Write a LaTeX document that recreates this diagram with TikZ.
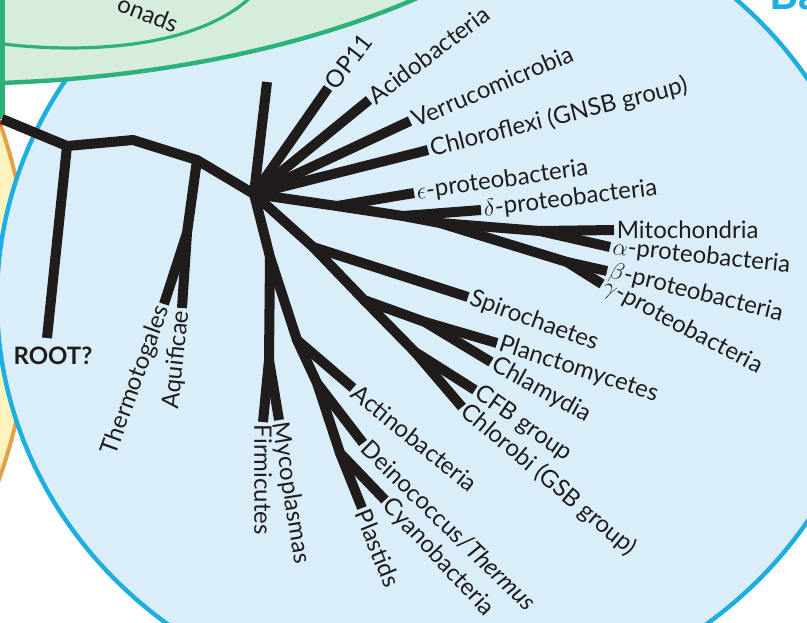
\documentclass[tikz,border=0pt]{standalone}
\usepackage{fontspec}
\setmainfont{Lato}
\usetikzlibrary{positioning}

\definecolor{bfill}{RGB}{218,238,250}
\definecolor{bline}{RGB}{30,174,224}
\definecolor{gfill}{RGB}{214,236,221}
\definecolor{gline}{RGB}{44,178,120}
\definecolor{yfill}{RGB}{255,244,190}
\definecolor{oline}{RGB}{226,162,72}
\definecolor{rdot}{RGB}{236,84,60}
\definecolor{ink}{RGB}{33,28,28}

\begin{document}
\begin{tikzpicture}[x=0.5pt,y=-0.5pt,
    br/.style={draw=ink,line width=5pt,line join=round},
    lab/.style={inner sep=1.2pt,text=ink,font=\fontsize{12}{14}\selectfont}]
    \useasboundingbox (0,0) rectangle (807,622);
    \fill[white] (0,0) rectangle (807,622);

    \draw[oline,line width=2pt,fill=yfill] (-502,300) circle [radius=532];
    \draw[bline,line width=2.2pt,fill=bfill] (437,300) ellipse [x radius=440,y radius=410];
    \fill[gfill] (-4,-4) -- (-4,83) -- (0,83) .. controls (150,78) and (300,50) .. (422,-4) -- cycle;
    \draw[gline,line width=2.2pt] (-4,83) -- (0,83) .. controls (150,78) and (300,50) .. (422,-4);
    \draw[gline,line width=1.6pt] (-4,43) .. controls (60,52) and (190,55) .. (252,-4);
    \draw[gline,line width=2.6pt] (2,-4) -- (2,119);
    \fill[rdot] (0,123) circle [radius=3.5];

    \node[lab,rotate=-21] (on) at (148,14) {onads};
    \node[anchor=base west,inner sep=0pt,text=bline,font=\fontsize{22}{24}\selectfont\bfseries] (ba) at (769,9) {Ba};

    \coordinate (t0) at (2,119);
    \coordinate (r1) at (67,146);
    \coordinate (rt) at (47,338);
    \coordinate (r2) at (133,140);
    \coordinate (r3) at (197,160);
    \coordinate (r4) at (187,233);
    \coordinate (hb) at (254,194);
    \coordinate (vv) at (267,82);
    \coordinate (p1) at (337,206);
    \coordinate (p2) at (403,216);
    \coordinate (p3) at (440,223);
    \coordinate (p4) at (540,231);
    \coordinate (p5) at (567,262);
    \coordinate (s1) at (313,247);
    \coordinate (s2) at (364,300);
    \coordinate (s3) at (425,322);
    \coordinate (s4) at (415,352);
    \coordinate (n1) at (270,257);
    \coordinate (n2) at (269,360);
    \coordinate (n3) at (297,340);
    \coordinate (n4) at (317,383);
    \coordinate (n5) at (340,453);

    \node[lab,rotate=52,anchor=west] (op) at (328,88) {OP11};
    \node[lab,rotate=37,anchor=west] (ac) at (369,100) {Acidobacteria};
    \node[lab,rotate=23,anchor=west] (ve) at (410,121) {Verrucomicrobia};
    \node[lab,rotate=14,anchor=west] (cx) at (428,150) {Chloroflexi (GNSB group)};
    \node[lab,rotate=8,anchor=west] (ep) at (414,193) {$\epsilon$-proteobacteria};
    \node[lab,rotate=7,anchor=west] (dl) at (481,210) {$\delta$-proteobacteria};
    \node[lab,anchor=west] (mi) at (614,230) {Mitochondria};
    \node[lab,rotate=-6,anchor=west] (al) at (610,247) {$\alpha$-proteobacteria};
    \node[lab,rotate=-14,anchor=west] (be) at (607,271) {$\beta$-proteobacteria};
    \node[lab,rotate=-28,anchor=west] (ga) at (602,284) {$\gamma$-proteobacteria};
    \node[lab,rotate=-20,anchor=west] (sp) at (468,297) {Spirochaetes};
    \node[lab,rotate=-18,anchor=west] (pl) at (497,343) {Planctomycetes};
    \node[lab,rotate=-29,anchor=west] (cl) at (491,362) {Chlamydia};
    \node[lab,rotate=-35,anchor=west] (cb) at (475,390) {CFB group};
    \node[lab,rotate=-40,anchor=west] (gs) at (462,407) {Chlorobi (GSB group)};
    \node[lab,rotate=-39,anchor=west] (ab) at (353,388) {Actinobacteria};
    \node[lab,rotate=-44,anchor=west] (dt) at (363,443) {Deinococcus/\textit{Thermus}};
    \node[lab,rotate=-47,anchor=west] (cy) at (385,500) {Cyanobacteria};
    \node[lab,rotate=-68,anchor=west] (ps) at (362,508) {Plastids};
    \node[lab,rotate=-90,anchor=west] (fi) at (263,422) {Firmicutes};
    \node[lab,rotate=-81,anchor=west] (my) at (279,420) {Mycoplasmas};
    \node[lab,rotate=70,anchor=east] (tm) at (164,304) {Thermotogales};
    \node[lab,rotate=84,anchor=east] (aq) at (182,308) {Aquificae};
    \node[lab,font=\fontsize{12}{14}\selectfont\bfseries] (ro) at (53,356) {ROOT?};

    \draw[br] (t0) -- (r1) -- (r2) -- (r3) -- (hb);
    \draw[br] (r1) -- (rt);
    \draw[br] (r3) -- (r4) -- (tm.east);
    \draw[br] (r4) -- (aq.east);

    \draw[br] (hb) -- (vv);
    \draw[br] (hb) -- (op.west);
    \draw[br] (hb) -- (ac.west);
    \draw[br] (hb) -- (ve.west);
    \draw[br] (hb) -- (cx.west);

    \draw[br] (hb) -- (p1) -- (p2) -- (p3) -- (p5) -- (ga.west);
    \draw[br] (p1) -- (ep.west);
    \draw[br] (p2) -- (dl.west);
    \draw[br] (p3) -- (p4) -- (mi.west);
    \draw[br] (p4) -- (al.west);
    \draw[br] (p5) -- (be.west);

    \draw[br] (hb) -- (s1) -- (sp.west);
    \draw[br] (s1) -- (s2) -- (s3) -- (pl.west);
    \draw[br] (s3) -- (cl.west);
    \draw[br] (s2) -- (s4) -- (cb.west);
    \draw[br] (s4) -- (gs.west);

    \draw[br] (hb) -- (n1) -- (n3) -- (n4) -- (n5) -- (cy.west);
    \draw[br] (n5) -- (ps.west);
    \draw[br] (n4) -- (dt.west);
    \draw[br] (n3) -- (ab.west);
    \draw[br] (n1) -- (n2) -- (fi.west);
    \draw[br] (n2) -- (my.west);
\end{tikzpicture}
\end{document}
